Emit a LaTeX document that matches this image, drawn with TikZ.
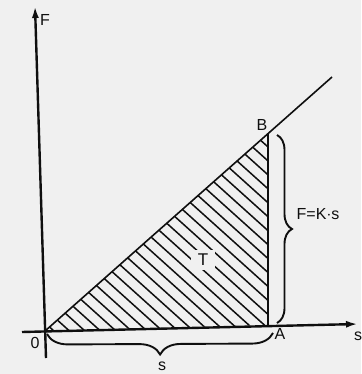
\documentclass[tikz,border=0pt]{standalone}
\usepackage{fontspec}
\setmainfont{Liberation Sans}
\usetikzlibrary{arrows.meta,decorations.pathreplacing}
\definecolor{paper}{RGB}{240,240,240}
\definecolor{ink}{RGB}{15,15,15}
\begin{document}
\begin{tikzpicture}[x=1pt,y=-1pt,
  axis/.style={ink,line width=2.4pt,-{Latex[length=12pt,width=7pt]}},
  graphline/.style={ink,line width=1.6pt},
  edgeline/.style={ink,line width=2.2pt},
  hatchline/.style={ink,line width=1.5pt},
  bracestyle/.style={ink,line width=1.9pt,decorate,decoration={brace,amplitude=#1}},
  lbl/.style={ink,font=\fontsize{16}{16}\selectfont,inner sep=0pt}]
\fill[paper] (0,0) rectangle (361,374);
\useasboundingbox (0,0) rectangle (361,374);
% key points
\coordinate (O) at (45,331);
\coordinate (A) at (268,325);
\coordinate (B) at (268,134);
\coordinate (E) at (332,77);
\coordinate (Ybot) at (46,358);
\coordinate (Ytop) at (35,6);
\coordinate (Xleft) at (22,332);
\coordinate (Xright) at (358,324);
% hatching
\begin{scope}
  \clip (O) -- (A) -- (B) -- cycle;
  \foreach \k in {0,...,29} {
    \pgfmathsetmacro{\xo}{54+15.5*\k}
    \draw[hatchline] (\xo-420,331-378) -- (\xo+40,331+36);
  }
\end{scope}
\node[lbl,fill=paper,inner xsep=7pt,inner ysep=4pt,font=\fontsize{17}{17}\selectfont] (T) at (203,260) {T};
% axes
\draw[axis] (Ybot) -- (Ytop);
\draw[axis] (Xleft) -- (Xright);
% graph line and edge
\draw[graphline] (O) -- (E);
\draw[edgeline] (A) -- (B);
% braces
\coordinate (RBt) at (277,135);
\coordinate (RBb) at (277,323);
\draw[bracestyle=15pt] (RBt) -- (RBb);
\coordinate (BBl) at (47,334);
\coordinate (BBr) at (273,333);
\draw[bracestyle=21pt] (BBr) -- (BBl);
% labels
\node[lbl] (lF) at (45,20) {F};
\node[lbl] (lB) at (262,125) {B};
\node[lbl] (lA) at (280,334) {A};
\node[lbl] (lO) at (35,343) {0};
\node[lbl] (lK) at (318,214) {F=K$\cdot$s};
\node[lbl] (ls) at (162,366) {s};
\node[lbl] (lsx) at (358,336) {s};
\end{tikzpicture}
\end{document}
